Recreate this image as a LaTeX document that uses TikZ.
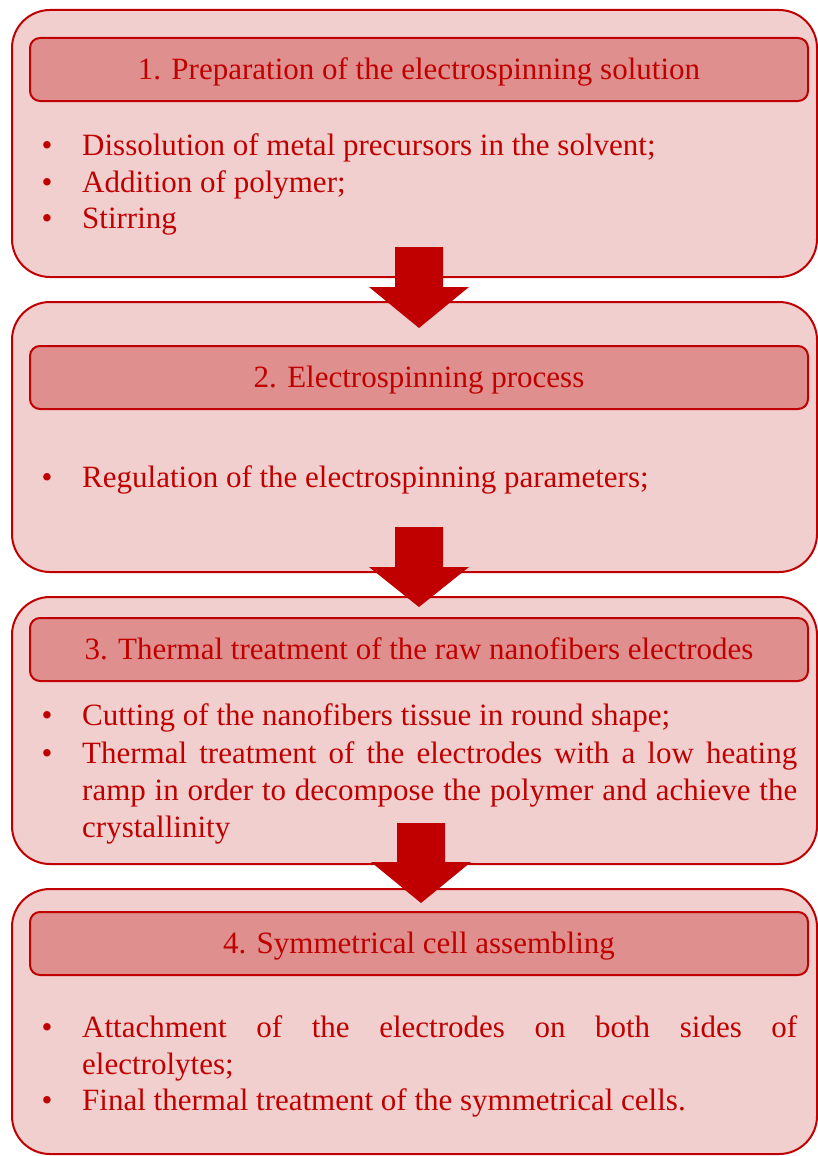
\documentclass[tikz,border=0pt]{standalone}
\usepackage{fontspec}
\setmainfont{Liberation Serif}
\definecolor{dred}{HTML}{C00000}
\definecolor{outerfill}{HTML}{F2CFCF}
\definecolor{headfill}{HTML}{E08F8F}
\newcommand{\mainfnt}{\fontsize{31}{37}\selectfont}
\tikzset{
  outerbox/.style={draw=dred, line width=2pt, fill=outerfill, rounded corners=38pt, inner sep=0pt, minimum width=805pt},
  headbox/.style={draw=dred, line width=2pt, fill=headfill, rounded corners=10pt, inner sep=0pt, minimum width=778pt, minimum height=63pt, font=\mainfnt, text=dred, text height=26pt, text depth=6pt},
  bulletmark/.style={font=\mainfnt, text=dred, anchor=base, inner sep=0pt},
  itemtext/.style={font=\mainfnt, text=dred, anchor=base west, inner sep=0pt, text width=715pt, align=justify},
  blockarrow/.style={fill=dred, draw=none}
}
\begin{document}
\begin{tikzpicture}[x=1pt,y=-1pt]
\useasboundingbox (0,0) rectangle (818,1156);
% outer boxes
\node[outerbox, minimum height=267pt] (b1) at (414.5,143.5) {};
\node[outerbox, minimum height=270pt] (b2) at (414.5,437) {};
\node[outerbox, minimum height=267pt] (b3) at (414.5,730.5) {};
\node[outerbox, minimum height=265pt] (b4) at (414.5,1021.5) {};
% headers
\node[headbox] (h1) at (419,69.5) {1. Preparation of the electrospinning solution};
\node[headbox] (h2) at (419,377.5) {2. Electrospinning process};
\node[headbox] (h3) at (419,649.5) {3. Thermal treatment of the raw nanofibers electrodes};
\node[headbox] (h4) at (419,943.5) {4. Symmetrical cell assembling};
% box 1 items
\node[bulletmark] (p11) at (47,155) {•};
\node[itemtext] (t11) at (82,155) {Dissolution of metal precursors in the solvent;};
\node[bulletmark] (p12) at (47,192) {•};
\node[itemtext] (t12) at (82,192) {Addition of polymer;};
\node[bulletmark] (p13) at (47,228) {•};
\node[itemtext] (t13) at (82,228) {Stirring};
% box 2 items
\node[bulletmark] (p21) at (47,487) {•};
\node[itemtext] (t21) at (82,487) {Regulation of the electrospinning parameters;};
% box 3 items
\node[bulletmark] (p31) at (47,725) {•};
\node[itemtext] (t31) at (82,725) {Cutting of the nanofibers tissue in round shape;};
\node[bulletmark] (p32) at (47,763) {•};
\node[itemtext] (t32) at (82,763) {Thermal treatment of the electrodes with a low heating\linebreak ramp in order to decompose the polymer and achieve the\linebreak crystallinity};
% box 4 items
\node[bulletmark] (p41) at (47,1037) {•};
\node[itemtext] (t41) at (82,1037) {Attachment of the electrodes on both sides of\linebreak electrolytes;};
\node[bulletmark] (p42) at (47,1110) {•};
\node[itemtext] (t42) at (82,1110) {Final thermal treatment of the symmetrical cells.};
% block arrows
\path[blockarrow] (395,247) -- (443,247) -- (443,287) -- (469,287) -- (419,328) -- (369,287) -- (395,287) -- cycle;
\path[blockarrow] (395,527) -- (443,527) -- (443,567) -- (469,567) -- (419,607) -- (369,567) -- (395,567) -- cycle;
\path[blockarrow] (397,823) -- (445,823) -- (445,862) -- (471,862) -- (421,903) -- (371,862) -- (397,862) -- cycle;
\end{tikzpicture}
\end{document}
